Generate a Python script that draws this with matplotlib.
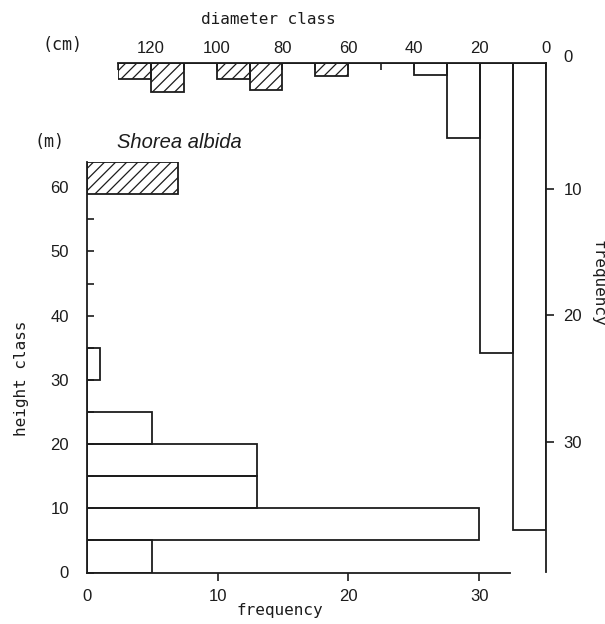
import numpy as np
import matplotlib
matplotlib.use("Agg")
import matplotlib.pyplot as plt
import matplotlib.transforms as mtransforms
from matplotlib.ticker import MultipleLocator

# height class (m): lower bin edges and tree counts
height_lo = [0, 5, 10, 15, 20, 25, 30]
height_freq = [5, 30, 13, 13, 5, 0, 1]
# emergent trees (hatched)
emergent_height_lo = 59
emergent_height_freq = 7

# diameter class (cm): lower bin edges and tree counts
diam_lo = [0, 10, 20, 30, 40, 50, 60, 70, 80, 90, 100, 110, 120]
diam_freq = [37, 23, 6, 1, 0, 0, 0, 0, 0, 0, 0, 0, 0]
diam_emergent = [0, 0, 0, 0, 0, 0, 1.1, 0, 2.2, 1.3, 0, 2.3, 1.3]

W, H = 605, 624
ink = "#1c1c1c"
plt.rcParams["hatch.linewidth"] = 0.9
plt.rcParams["hatch.color"] = ink
num_font = dict(family="Liberation Sans", size=12)
mono = "DejaVu Sans Mono"

fig = plt.figure(figsize=(W / 100, H / 100), dpi=100)
fig.patch.set_facecolor("white")

def px_box(x0, y0, x1, y1):
    return [x0 / W, 1 - y1 / H, (x1 - x0) / W, (y1 - y0) / H]

# ---- height histogram ----
ax_h = fig.add_axes(px_box(87, 161.6, 510.5, 572.5))
ax_h.patch.set_alpha(0)
ax_h.barh(np.array(height_lo), height_freq, height=5, align="edge",
          facecolor="none", edgecolor=ink, linewidth=1.3)
ax_h.barh([emergent_height_lo], [emergent_height_freq], height=5, align="edge",
          facecolor="none", edgecolor=ink, linewidth=1.3, hatch="///")
ax_h.set_xlim(0, 32.4)
ax_h.set_ylim(0, 64)
for s in ["top", "right"]:
    ax_h.spines[s].set_visible(False)
for s in ["left", "bottom"]:
    ax_h.spines[s].set_linewidth(1.3)
    ax_h.spines[s].set_color(ink)
ax_h.set_xticks([0, 10, 20, 30])
ax_h.set_yticks(range(0, 61, 10))
ax_h.yaxis.set_minor_locator(MultipleLocator(5))
ax_h.tick_params(axis="x", direction="out", length=5.8, width=1.2, pad=6, color=ink)
ax_h.tick_params(axis="y", which="both", direction="in", length=5, width=1.2, pad=13, color=ink)
ax_h.xaxis.get_major_ticks()[0].tick1line.set_visible(False)
ax_h.yaxis.get_major_ticks()[-1].tick1line.set_visible(False)
for lab in ax_h.get_xticklabels() + ax_h.get_yticklabels():
    lab.set_fontfamily(num_font["family"])
    lab.set_fontsize(num_font["size"])
    lab.set_color(ink)

# ---- diameter histogram (hangs down from the top axis) ----
ax_d = fig.add_axes(px_box(118, 62.5, 545.5, 572))
ax_d.patch.set_alpha(0)
ax_d.bar(np.array(diam_lo), diam_freq, width=10, align="edge",
         facecolor="none", edgecolor=ink, linewidth=1.3)
ax_d.bar(np.array(diam_lo), diam_emergent, width=10, align="edge",
         facecolor="none", edgecolor=ink, linewidth=1.3, hatch="///")
ax_d.set_xlim(130, 0)
ax_d.set_ylim(40.3, 0)
for s in ["bottom", "left"]:
    ax_d.spines[s].set_visible(False)
for s in ["top", "right"]:
    ax_d.spines[s].set_linewidth(1.3)
    ax_d.spines[s].set_color(ink)
ax_d.xaxis.tick_top()
ax_d.yaxis.tick_right()
ax_d.set_xticks(range(0, 121, 20))
ax_d.xaxis.set_minor_locator(MultipleLocator(10))
ax_d.set_yticks([0, 10, 20, 30])
ax_d.tick_params(axis="x", which="both", direction="in", length=5, width=1.2, pad=5, color=ink)
ax_d.tick_params(axis="y", direction="out", length=5.8, width=1.2, pad=7, color=ink)
ax_d.yaxis.get_major_ticks()[0].tick2line.set_visible(False)
for lab in ax_d.get_xticklabels() + ax_d.get_yticklabels():
    lab.set_fontfamily(num_font["family"])
    lab.set_fontsize(num_font["size"])
    lab.set_color(ink)
# lift the "0" of the right axis a little above the top line
fig.canvas.draw()
zero_lab = ax_d.yaxis.get_major_ticks()[0].label2
zero_lab.set_transform(zero_lab.get_transform() +
                       mtransforms.ScaledTranslation(0, 5 / 72, fig.dpi_scale_trans))

# ---- labels ----
def label(x, y, s, **kw):
    fig.text(x / W, 1 - y / H, s, ha="center", va="center", color=ink, **kw)

label(268, 20, "diameter class", family=mono, size=11.5)
label(63, 45, "(cm)", family=mono, size=12)
label(50, 142, "(m)", family=mono, size=12)
label(179, 142, "Shorea albida", family="Liberation Sans", style="italic", size=14.5)
label(22, 378, "height class", family=mono, size=11.5, rotation=90)
label(280, 611, "frequency", family=mono, size=11.5)
label(598, 283, "frequency", family=mono, size=11.5, rotation=270)

fig.savefig("out.png", dpi=100, facecolor="white")
